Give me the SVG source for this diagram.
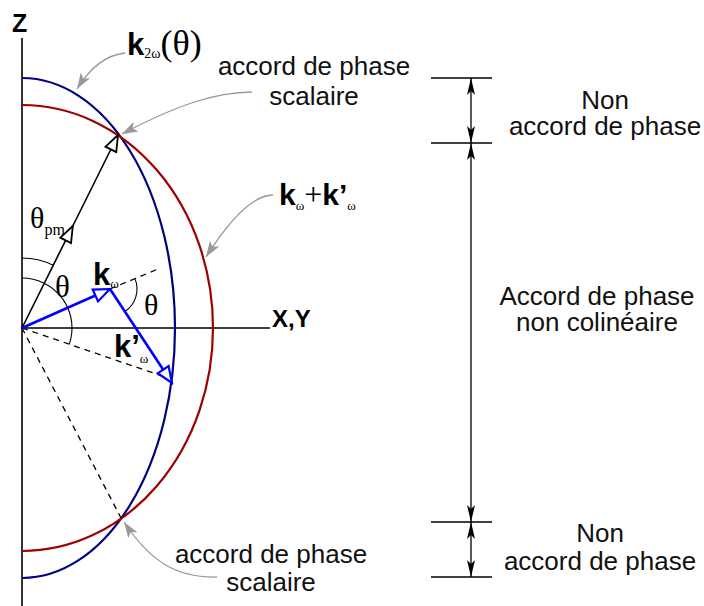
<svg xmlns="http://www.w3.org/2000/svg" width="704" height="606" viewBox="0 0 704 606">
<style>
.lbl{font-family:"Liberation Sans",Arial,sans-serif;font-size:26px;fill:#111;text-anchor:middle}
.bold{font-family:"Liberation Sans",Arial,sans-serif;font-weight:bold;fill:#000}
.ser{font-family:"Liberation Serif","Times New Roman",serif;fill:#000}
.axis{stroke:#000;stroke-width:1.6;fill:none}
.dash{stroke:#000;stroke-width:1.3;fill:none;stroke-dasharray:6,5}
.arc{stroke:#000;stroke-width:1.1;fill:none}
.lead{stroke:#999;stroke-width:1.3;fill:none;marker-end:url(#grey)}
.dim{stroke:#000;stroke-width:1.3;fill:none;marker-start:url(#dimS);marker-end:url(#dimE)}
.tick{stroke:#000;stroke-width:1.3}
</style>
<defs>
<marker id="hollowK" markerUnits="userSpaceOnUse" viewBox="-19 -9 21 18" markerWidth="21" markerHeight="18" refX="0" refY="0" orient="auto"><path d="M0,0 L-16,-6 L-16,6 Z" fill="#fff" stroke="#000" stroke-width="1.8"/></marker>
<marker id="hollowB" markerUnits="userSpaceOnUse" viewBox="-19 -9 21 18" markerWidth="21" markerHeight="18" refX="0" refY="0" orient="auto"><path d="M0,0 L-16,-6.5 L-16,6.5 Z" fill="#fff" stroke="#0000ff" stroke-width="2.2"/></marker>
<marker id="grey" markerUnits="userSpaceOnUse" viewBox="-17 -7 18 14" markerWidth="18" markerHeight="14" refX="0" refY="0" orient="auto"><path d="M0,0 L-16,-5.5 L-12,0 L-16,5.5 Z" fill="#999"/></marker>
<marker id="dimE" markerUnits="userSpaceOnUse" viewBox="-18 -6 19 12" markerWidth="19" markerHeight="12" refX="0" refY="0" orient="auto"><path d="M0,0 L-17,-4 L-13,0 L-17,4 Z" fill="#000"/></marker>
<marker id="dimS" markerUnits="userSpaceOnUse" viewBox="-18 -6 19 12" markerWidth="19" markerHeight="12" refX="0" refY="0" orient="auto-start-reverse"><path d="M0,0 L-17,-4 L-13,0 L-17,4 Z" fill="#000"/></marker>
</defs>

<g id="axes">
<line class="axis" x1="22" y1="38" x2="22" y2="606"/>
<line class="axis" x1="22" y1="328" x2="270" y2="328"/>
<text class="bold" x="12" y="32" font-size="25">Z</text>
<text class="bold" x="272" y="327" font-size="24">X,Y</text>
</g>

<g id="surface-k2w">
<path d="M22,78 A153,250 0 0 1 22,578" fill="none" stroke="#000080" stroke-width="2.2"/>
</g>
<g id="surface-kw-sum">
<path d="M22,105 A191,223 0 0 1 22,551" fill="none" stroke="#a00000" stroke-width="2.2"/>
</g>

<g id="connectors">
<line class="dash" x1="22" y1="328" x2="168" y2="378"/>
<line class="dash" x1="22" y1="328" x2="121" y2="518"/>
<line class="dash" x1="110" y1="289" x2="158" y2="269"/>
<path class="arc" d="M22,258 A70,70 0 0 1 53.2,265.3"/>
<path class="arc" d="M22,278 A50,50 0 0 1 69.3,344.2"/>
<path class="arc" d="M134.7,278.1 A27,27 0 0 1 124.9,311.5"/>
<path d="M22,328 L72.8,226 L118,135" fill="none" stroke="#000" stroke-width="1.6" marker-mid="url(#hollowK)" marker-end="url(#hollowK)"/>
<line x1="22" y1="328" x2="110" y2="289" stroke="#0000ff" stroke-width="2.6" marker-end="url(#hollowB)"/>
<line x1="110" y1="289" x2="172" y2="383" stroke="#0000ff" stroke-width="2.6" marker-end="url(#hollowB)"/>
<path class="lead" d="M125,53 C106,55 90,68 77,89"/>
<path class="lead" d="M252,92 C215,92 175,106 122,134"/>
<path class="lead" d="M273,195 C255,195 232,216 206,257"/>
<path class="lead" d="M217,577 C176,578 150,561 124,522"/>
<line class="tick" x1="431" y1="78" x2="492" y2="78"/>
<line class="tick" x1="431" y1="143" x2="492" y2="143"/>
<line class="tick" x1="431" y1="522" x2="492" y2="522"/>
<line class="tick" x1="431" y1="577" x2="492" y2="577"/>
<line class="dim" x1="471" y1="78" x2="471" y2="143"/>
<line class="dim" x1="471" y1="143" x2="471" y2="522"/>
<line class="dim" x1="471" y1="522" x2="471" y2="577"/>
</g>

<g id="label-k2w">
<text x="127" y="55"><tspan class="bold" font-size="31">k</tspan><tspan class="ser" font-size="14" dy="3">2ω</tspan><tspan class="ser" font-size="36" dy="-3">(θ)</tspan></text>
</g>
<g id="label-scalaire-top">
<text class="lbl" x="314" y="75">accord de phase</text>
<text class="lbl" x="314" y="105">scalaire</text>
</g>
<g id="label-sum">
<text x="279" y="205"><tspan class="bold" font-size="30">k</tspan><tspan class="ser" font-size="13" dy="5">ω</tspan><tspan class="ser" font-size="32" dy="-5">+</tspan><tspan class="bold" font-size="30">k’</tspan><tspan class="ser" font-size="13" dy="5">ω</tspan></text>
</g>
<g id="label-kw">
<text x="93" y="285"><tspan class="bold" font-size="31">k</tspan><tspan class="ser" font-size="13" dy="3">ω</tspan></text>
</g>
<g id="label-kpw">
<text x="114" y="357"><tspan class="bold" font-size="31">k’</tspan><tspan class="ser" font-size="13" dy="6">ω</tspan></text>
</g>
<g id="label-theta">
<text x="30" y="228"><tspan class="ser" font-size="30">θ</tspan><tspan class="ser" font-size="16" dy="7">pm</tspan></text>
<text class="ser" x="55" y="297" font-size="31">θ</text>
<text class="ser" x="144" y="315" font-size="30">θ</text>
</g>
<g id="label-scalaire-bottom">
<text class="lbl" x="271" y="563">accord de phase</text>
<text class="lbl" x="271" y="591">scalaire</text>
</g>
<g id="label-non-top">
<text class="lbl" x="605" y="109">Non</text>
<text class="lbl" x="605" y="135">accord de phase</text>
</g>
<g id="label-noncol">
<text class="lbl" x="597" y="305">Accord de phase</text>
<text class="lbl" x="597" y="331">non colinéaire</text>
</g>
<g id="label-non-bottom">
<text class="lbl" x="600" y="542">Non</text>
<text class="lbl" x="600" y="570">accord de phase</text>
</g>
</svg>
